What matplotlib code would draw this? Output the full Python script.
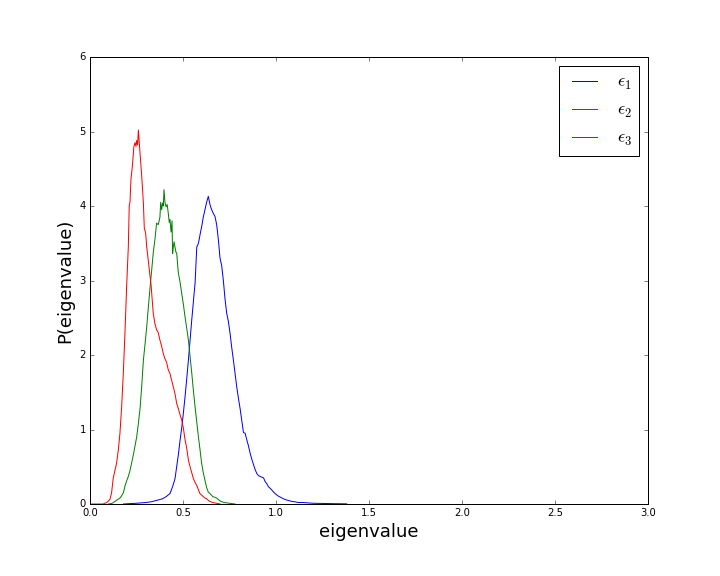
import matplotlib
matplotlib.use("Agg")
import matplotlib.pyplot as plt

plt.style.use("classic")

# epsilon_1 (blue)
x1 = [0.18, 0.25, 0.30, 0.33, 0.36, 0.39, 0.41, 0.43, 0.445, 0.457, 0.466, 0.475, 0.484,
      0.493, 0.502, 0.511, 0.520, 0.529, 0.538, 0.547, 0.556, 0.565, 0.574, 0.583, 0.592,
      0.600, 0.609, 0.618, 0.627, 0.636, 0.645, 0.654, 0.663, 0.672, 0.681, 0.690, 0.699,
      0.708, 0.717, 0.726, 0.735, 0.744, 0.753, 0.762, 0.771, 0.780, 0.789, 0.798, 0.807,
      0.816, 0.825, 0.834, 0.843, 0.852, 0.861, 0.870, 0.879, 0.888, 0.897, 0.906, 0.915,
      0.924, 0.933, 0.942, 0.951, 0.960, 0.969, 0.980, 0.995, 1.010, 1.025, 1.040, 1.055,
      1.070, 1.085, 1.100, 1.120, 1.145, 1.170, 1.200, 1.240, 1.280, 1.320, 1.380]
y1 = [0.00, 0.01, 0.02, 0.03, 0.05, 0.07, 0.10, 0.14, 0.24, 0.34, 0.50, 0.66, 0.85,
      1.02, 1.22, 1.44, 1.68, 1.93, 2.20, 2.47, 2.72, 2.97, 3.45, 3.50, 3.62,
      3.72, 3.85, 3.95, 4.05, 4.13, 4.02, 3.95, 3.90, 3.86, 3.75, 3.55, 3.30,
      3.20, 3.00, 2.75, 2.56, 2.45, 2.29, 2.10, 1.93, 1.75, 1.57, 1.42, 1.28,
      1.12, 0.96, 0.95, 0.86, 0.78, 0.68, 0.60, 0.53, 0.46, 0.41, 0.38, 0.37,
      0.36, 0.35, 0.30, 0.27, 0.23, 0.21, 0.18, 0.14, 0.11, 0.09, 0.07, 0.055,
      0.045, 0.035, 0.03, 0.02, 0.02, 0.015, 0.01, 0.008, 0.006, 0.004, 0.002]

# epsilon_2 (green)
x2 = [0.10, 0.12, 0.143, 0.161, 0.170, 0.179, 0.188, 0.197, 0.206, 0.215, 0.224, 0.233,
      0.242, 0.251, 0.260, 0.269, 0.278, 0.287, 0.296, 0.305, 0.314, 0.323, 0.332,
      0.340, 0.349, 0.358, 0.367, 0.376, 0.380, 0.385, 0.390, 0.394, 0.398, 0.403,
      0.409, 0.415, 0.421, 0.426, 0.430, 0.436, 0.441, 0.444, 0.448, 0.452, 0.457,
      0.462, 0.466, 0.475, 0.484, 0.493, 0.502, 0.511, 0.520, 0.529, 0.538, 0.547,
      0.556, 0.565, 0.574, 0.583, 0.592, 0.600, 0.609, 0.618, 0.627, 0.636, 0.645,
      0.660, 0.681, 0.700, 0.720, 0.750, 0.780]
y2 = [0.00, 0.01, 0.05, 0.08, 0.11, 0.15, 0.24, 0.31, 0.37, 0.45, 0.55, 0.66,
      0.78, 0.90, 1.08, 1.28, 1.58, 1.93, 2.15, 2.38, 2.65, 2.91, 3.15,
      3.37, 3.55, 3.77, 3.75, 3.85, 4.05, 3.95, 4.04, 4.00, 4.22, 4.05,
      3.99, 4.02, 3.90, 3.78, 3.82, 3.65, 3.80, 3.36, 3.45, 3.52, 3.45,
      3.38, 3.37, 3.10, 2.98, 2.83, 2.68, 2.51, 2.36, 2.20, 1.98, 1.76,
      1.52, 1.30, 1.10, 0.90, 0.72, 0.55, 0.42, 0.32, 0.22, 0.16, 0.14,
      0.10, 0.08, 0.04, 0.02, 0.01, 0.00]

# epsilon_3 (red)
x3 = [0.00, 0.07, 0.09, 0.107, 0.116, 0.125, 0.134, 0.143, 0.152, 0.161, 0.170, 0.179,
      0.188, 0.197, 0.206, 0.211, 0.215, 0.220, 0.229, 0.236, 0.242, 0.247, 0.251,
      0.256, 0.260, 0.265, 0.269, 0.278, 0.287, 0.292, 0.299, 0.305, 0.312, 0.319,
      0.328, 0.340, 0.349, 0.358, 0.367, 0.376, 0.385, 0.394, 0.403, 0.412, 0.421,
      0.430, 0.439, 0.448, 0.457, 0.466, 0.475, 0.484, 0.493, 0.502, 0.511, 0.520,
      0.529, 0.538, 0.547, 0.556, 0.565, 0.574, 0.583, 0.591, 0.600, 0.609, 0.618,
      0.627, 0.640, 0.660, 0.680, 0.700]
y3 = [0.00, 0.00, 0.02, 0.06, 0.15, 0.35, 0.45, 0.55, 0.72, 0.95, 1.30, 1.75,
      2.30, 2.92, 3.45, 4.01, 4.05, 4.35, 4.57, 4.80, 4.85, 4.80, 4.88,
      4.82, 5.02, 4.85, 4.71, 4.40, 4.04, 3.70, 3.64, 3.45, 3.30, 3.14,
      2.95, 2.56, 2.42, 2.34, 2.30, 2.20, 2.12, 2.02, 1.95, 1.90, 1.80,
      1.75, 1.66, 1.57, 1.48, 1.35, 1.28, 1.20, 1.13, 1.02, 0.86, 0.75,
      0.59, 0.50, 0.42, 0.34, 0.29, 0.25, 0.19, 0.14, 0.12, 0.10, 0.08,
      0.07, 0.04, 0.02, 0.01, 0.00]

labels = [r"$\epsilon_1$", r"$\epsilon_2$", r"$\epsilon_3$"]
colors = ["#0000ff", "#008000", "#ff0000"]

fig = plt.figure(figsize=(10, 8), dpi=72)
fig.subplots_adjust(left=0.125, right=0.9, bottom=0.125, top=0.901)
ax = fig.add_subplot(111)
for xs, ys, lab, c in zip([x1, x2, x3], [y1, y2, y3], labels, colors):
    ax.plot(xs, ys, color=c, label=lab, linewidth=1)
ax.set_xlim(0, 3)
ax.set_ylim(0, 6)
ax.tick_params(labelsize=10)
ax.set_xlabel("eigenvalue", fontsize=18)
ax.set_ylabel("P(eigenvalue)", fontsize=18)
ax.legend(loc="upper right", fontsize=18)
fig.savefig("out.png", dpi=72)
